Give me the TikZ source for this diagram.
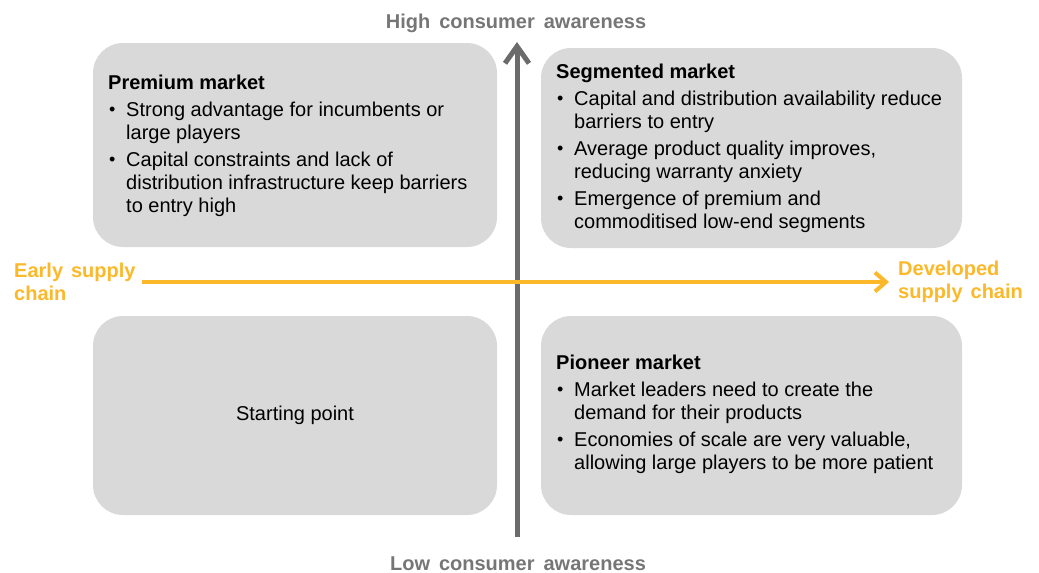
\documentclass[tikz,border=0pt]{standalone}
\usepackage{fontspec}
\setmainfont{Liberation Sans}
\usetikzlibrary{arrows.meta}
\definecolor{boxgray}{HTML}{D9D9D9}
\definecolor{axisgray}{HTML}{6B6B6B}
\definecolor{labelgray}{HTML}{767676}
\definecolor{supplyorange}{HTML}{FBB829}
\newcommand{\axisspacing}{\spaceskip=0.45em plus 0.1em\relax}
\newcommand{\supplyspacing}{\spaceskip=0.4em plus 0.1em\relax}
\tikzset{
  quad/.style={fill=boxgray, draw=none, rounded corners=30pt},
  body/.style={inner sep=0pt, font=\fontsize{20}{23}\selectfont, text=black},
  axislabel/.style={inner sep=0pt, font=\fontsize{20}{23}\selectfont\bfseries\axisspacing, text=labelgray},
  supplylabel/.style={inner sep=0pt, font=\fontsize{20}{23}\selectfont\bfseries\supplyspacing, text=supplyorange, align=left},
}
\newcommand{\bul}{\makebox[18pt][l]{\hspace{1pt}\raisebox{0.5pt}{\fontsize{18}{18}\selectfont\textbullet}}}
\begin{document}
\begin{tikzpicture}[x=1pt, y=-1pt]
\useasboundingbox (0,0) rectangle (1039,573);
% boxes
\path[quad] (93,43) rectangle (497,247);
\path[quad] (541,48) rectangle (962,248);
\path[quad] (93,316) rectangle (497,515);
\path[quad] (541,316) rectangle (962,515);
% box texts
\node[body, anchor=base west] (premium) at (108,89) {%
\begin{tabular}[t]{@{}l@{}l@{}}
\multicolumn{2}{@{}l@{}}{\bfseries Premium market}\\[4pt]
\bul & Strong advantage for incumbents or\\
 & large players\\[4pt]
\bul & Capital constraints and lack of\\
 & distribution infrastructure keep barriers\\
 & to entry high
\end{tabular}};
\node[body, anchor=base west] (segmented) at (556,78) {%
\begin{tabular}[t]{@{}l@{}l@{}}
\multicolumn{2}{@{}l@{}}{\bfseries Segmented market}\\[4pt]
\bul & Capital and distribution availability reduce\\
 & barriers to entry\\[4pt]
\bul & Average product quality improves,\\
 & reducing warranty anxiety\\[4pt]
\bul & Emergence of premium and\\
 & commoditised low-end segments
\end{tabular}};
\node[body, anchor=base west] (pioneer) at (556,369) {%
\begin{tabular}[t]{@{}l@{}l@{}}
\multicolumn{2}{@{}l@{}}{\bfseries Pioneer market}\\[4pt]
\bul & Market leaders need to create the\\
 & demand for their products\\[4pt]
\bul & Economies of scale are very valuable,\\
 & allowing large players to be more patient
\end{tabular}};
\node[body, anchor=base] (start) at (295,420) {Starting point};
% axis labels
\node[axislabel, anchor=base] (high) at (516,28) {High consumer awareness};
\node[axislabel, anchor=base] (low) at (518,570) {Low consumer awareness};
\node[supplylabel, anchor=base west] (early) at (14,300) {Early supply\\chain};
\node[supplylabel, anchor=base west] (developed) at (898,298) {Developed\\supply chain};
% arrows
\coordinate (vbot) at (517,537);
\coordinate (vtop) at (517,42);
\coordinate (hleft) at (142,282);
\coordinate (hright) at (889,282);
\draw[axisgray, line width=5pt, -{Straight Barb[length=17pt, width=24pt, line width=5pt]}] (vbot) -- (vtop);
\draw[supplyorange, line width=4pt, -{Straight Barb[length=11pt, width=19pt, line width=4pt]}] (hleft) -- (hright);
\end{tikzpicture}
\end{document}
